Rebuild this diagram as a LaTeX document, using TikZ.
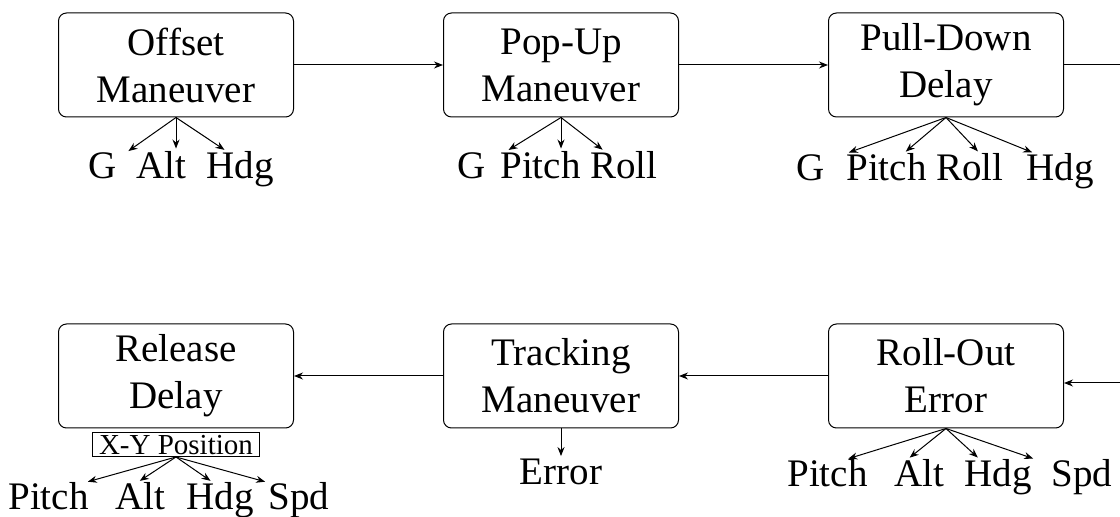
\documentclass[tikz,border=0pt]{standalone}
\usepackage{fontspec}
\setmainfont{Liberation Serif}
\usepackage{tikz}
\usetikzlibrary{positioning, arrows.meta}
\newcommand{\stagefont}{\fontsize{19.5}{23.5}\selectfont}
\newcommand{\tagfont}{\fontsize{14.5}{16}\selectfont}
\tikzstyle{stage} = [rectangle, rounded corners=4pt, 
minimum width=117.5pt, minimum height=52pt, text centered, 
align=center, draw=black, line width=0.5pt, font=\stagefont]
\tikzstyle{tag} = [rectangle, draw=black, line width=0.5pt, 
inner xsep=3.5pt, inner ysep=1pt, font=\tagfont]
\tikzstyle{lab} = [anchor=base west, inner sep=0pt, 
font=\stagefont]
\tikzstyle{arrow} = [line width=0.5pt,
-{Stealth[length=4.5pt,width=3.5pt]}]
\tikzstyle{fan} = [arrow, shorten >=1.5pt]
\begin{document}
\begin{tikzpicture}[x=0.5pt, y=0.5pt, node distance=192.5pt]
\useasboundingbox (0,0) rectangle (1120,-517);

\node (offset) [stage] at (176,-65) {Offset\\Maneuver};
\node (popup) [stage, right of=offset] {Pop-Up\\Maneuver};
\node (pulldown) [stage, right of=popup] {Pull-Down\\Delay};

\node (release) [stage, below of=offset, node distance=155.5pt] 
{Release\\Delay};
\node (tracking) [stage, right of=release] {Tracking\\Maneuver};
\node (rollout) [stage, right of=tracking] {Roll-Out\\Error};

\node (xy) [tag, below=2pt of release] {X-Y Position};

% offset
\node (og) [lab] at (88,-179) {G};
\node (oalt) [lab] at (136,-179) {Alt};
\node (ohdg) [lab] at (206,-179) {Hdg};
% pop-up
\node (pg) [lab] at (457,-179) {G};
\node (ppitch) [lab] at (500,-179) {Pitch};
\node (proll) [lab] at (590,-179) {Roll};
% pull-down
\node (dg) [lab] at (796,-181) {G};
\node (dpitch) [lab] at (846,-181) {Pitch};
\node (droll) [lab] at (936,-181) {Roll};
\node (dhdg) [lab] at (1026,-181) {Hdg};
% release
\node (repitch) [lab] at (8,-510) {Pitch};
\node (realt) [lab] at (115,-510) {Alt};
\node (rehdg) [lab] at (186,-510) {Hdg};
\node (respd) [lab] at (268,-510) {Spd};
% tracking
\node (err) [lab, anchor=base] at (561,-485) {Error};
% roll-out
\node (ropitch) [lab] at (787,-487) {Pitch};
\node (roalt) [lab] at (894,-487) {Alt};
\node (rohdg) [lab] at (964,-487) {Hdg};
\node (rospd) [lab] at (1051,-487) {Spd};

\draw [arrow] (offset) -- (popup);
\draw [arrow] (popup) -- (pulldown);
\draw [arrow] (pulldown.east) -- ++(80,0) |- 
([yshift=-3.5pt]rollout.east);
\draw [arrow] (rollout) -- (tracking);
\draw [arrow] (tracking) -- (release);

\draw [fan] (offset.south) -- ([xshift=4.5pt]og.north east);
\draw [fan] (offset.south) -- (offset.south |- oalt.north);
\draw [fan] (offset.south) -- ([xshift=10.5pt]ohdg.north west);

\draw [fan] (popup.south) -- ([xshift=3pt]ppitch.north west);
\draw [fan] (popup.south) -- (popup.south |- ppitch.north);
\draw [fan] (popup.south) -- ([xshift=7.5pt]proll.north west);

\draw [fan] (pulldown.south) -- (dpitch.north west);
\draw [fan] (pulldown.south) -- ([xshift=8.5pt]dpitch.north);
\draw [fan] (pulldown.south) -- ([xshift=5pt]droll.north);
\draw [fan] (pulldown.south) -- ([xshift=4.5pt]dhdg.north west);

\draw [fan] (xy.south) -- ([xshift=-2pt]repitch.north east);
\draw [fan] (xy.south) -- ([xshift=-1.5pt]realt.north);
\draw [fan] (xy.south) -- ([xshift=-3.5pt]rehdg.north);
\draw [fan] (xy.south) -- (respd.north west);

\draw [fan] (tracking) -- (err);

\draw [fan] (rollout.south) -- ([xshift=9pt]ropitch.north);
\draw [fan] (rollout.south) -- ([xshift=-6pt]roalt.north);
\draw [fan] (rollout.south) -- ([xshift=-9pt]rohdg.north);
\draw [fan] (rollout.south) -- ([xshift=-7.5pt]rospd.north west);

\end{tikzpicture}
\end{document}
